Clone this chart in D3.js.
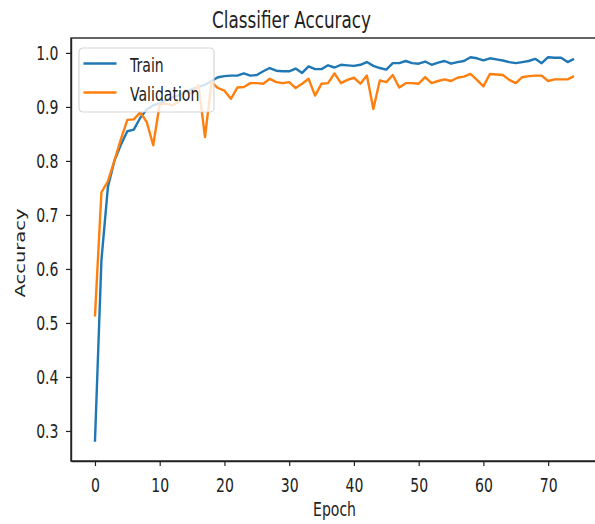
<!DOCTYPE html>
<html>
<head>
<meta charset="utf-8">
<script src="https://cdn.jsdelivr.net/npm/d3@7"></script>
<style>
  body { margin: 0; background: #fff; }
  svg { display: block; font-family: 'DejaVu Sans', sans-serif; }
  .axis path, .axis line { stroke: #222; }
</style>
</head>
<body>
<svg id="chart" width="595" height="524"></svg>
<script>
const epochs = d3.range(75);
const trainAcc = [
  0.280, 0.616, 0.752, 0.800, 0.830, 0.855, 0.858, 0.880, 0.895, 0.903,
  0.907, 0.912, 0.918, 0.922, 0.928, 0.933, 0.937, 0.941, 0.948, 0.955,
  0.957, 0.958, 0.958, 0.962, 0.958, 0.959, 0.966, 0.972, 0.967, 0.966,
  0.966, 0.971, 0.963, 0.975, 0.970, 0.970, 0.977, 0.973, 0.978, 0.977,
  0.976, 0.978, 0.983, 0.976, 0.972, 0.969, 0.981, 0.981, 0.985, 0.981,
  0.980, 0.984, 0.978, 0.982, 0.985, 0.980, 0.983, 0.985, 0.992, 0.990,
  0.986, 0.990, 0.988, 0.986, 0.983, 0.981, 0.983, 0.985, 0.989, 0.981,
  0.992, 0.991, 0.991, 0.983, 0.989
];
const valAcc = [
  0.512, 0.742, 0.762, 0.800, 0.840, 0.876, 0.877, 0.890, 0.872, 0.829,
  0.905, 0.906, 0.903, 0.910, 0.930, 0.925, 0.940, 0.844, 0.946, 0.935,
  0.930, 0.915, 0.936, 0.937, 0.944, 0.944, 0.943, 0.952, 0.946, 0.944,
  0.946, 0.935, 0.943, 0.952, 0.921, 0.943, 0.944, 0.962, 0.944, 0.950,
  0.954, 0.943, 0.958, 0.896, 0.949, 0.946, 0.959, 0.936, 0.944, 0.944,
  0.943, 0.955, 0.944, 0.948, 0.951, 0.948, 0.954, 0.956, 0.961, 0.950,
  0.938, 0.961, 0.960, 0.959, 0.950, 0.944, 0.955, 0.957, 0.958, 0.958,
  0.948, 0.951, 0.951, 0.951, 0.957
];
const xTicks = [0, 10, 20, 30, 40, 50, 60, 70];
const yTicks = [0.3, 0.4, 0.5, 0.6, 0.7, 0.8, 0.9, 1.0];
const seriesNames = ['Train', 'Validation'];
const seriesColors = ['#1f77b4', '#ff7f0e'];

// the picture is squeezed sideways, so text gets the same squeeze
const sx = 0.72;
const fontSize = 19.5;

const margin = { top: 38, right: -3, bottom: 63, left: 71 };
const width = 595 - margin.left - margin.right;
const height = 524 - margin.top - margin.bottom;

const root = d3.select('#chart');
const svg = root
  .append('g')
  .attr('transform', `translate(${margin.left}, ${margin.top})`);

// matplotlib style 5% padding around the data
const xPad = (epochs[epochs.length - 1] - epochs[0]) * 0.05;
const allVals = trainAcc.concat(valAcc);
const yMin = d3.min(allVals);
const yMax = d3.max(allVals);
const yPad = (yMax - yMin) * 0.05;

const xScale = d3
  .scaleLinear()
  .domain([epochs[0] - xPad, epochs[epochs.length - 1] + xPad])
  .range([0, width]);

const yScale = d3
  .scaleLinear()
  .domain([yMin - yPad, yMax + yPad])
  .range([height, 0]);

const line = d3
  .line()
  .x((d, i) => xScale(epochs[i]))
  .y(d => yScale(d));

[trainAcc, valAcc].forEach((series, i) => {
  svg
    .append('path')
    .datum(series)
    .attr('fill', 'none')
    .attr('stroke', seriesColors[i])
    .attr('stroke-width', 2.4)
    .attr('stroke-linejoin', 'round')
    .attr('d', line);
});

// axes
const xAxis = svg
  .append('g')
  .attr('class', 'axis')
  .attr('transform', `translate(0, ${height})`)
  .call(d3.axisBottom(xScale).tickValues(xTicks).tickSize(5).tickSizeOuter(0));

xAxis
  .selectAll('text')
  .attr('y', 0)
  .attr('dy', '0.71em')
  .attr('transform', `translate(0, 17) scale(${sx}, 1)`);

const yAxis = svg
  .append('g')
  .attr('class', 'axis')
  .call(
    d3
      .axisLeft(yScale)
      .tickValues(yTicks)
      .tickFormat(d3.format('.1f'))
      .tickSize(5)
      .tickSizeOuter(0)
  );

yAxis
  .selectAll('text')
  .attr('x', 0)
  .attr('transform', `translate(-12.5, 0) scale(${sx}, 1)`);

root.selectAll('.axis text')
  .attr('font-size', fontSize)
  .attr('font-family', 'DejaVu Sans')
  .attr('fill', '#222');
root.selectAll('.axis .domain').attr('stroke-width', 1.4);
root.selectAll('.axis .tick line').attr('stroke-width', 1.2);

// top and right spines
svg
  .append('rect')
  .attr('width', width)
  .attr('height', height)
  .attr('fill', 'none')
  .attr('stroke', '#222')
  .attr('stroke-width', 1.4);

// title and axis labels
root
  .append('text')
  .attr('transform', `translate(291.5, 27.5) scale(${sx}, 1)`)
  .attr('text-anchor', 'middle')
  .attr('font-size', 23.4)
  .attr('fill', '#222')
  .text('Classifier Accuracy');

root
  .append('text')
  .attr('transform', `translate(${margin.left + xScale(xScale.domain()[0] + (xScale.domain()[1] - xScale.domain()[0]) / 2)}, 516) scale(${sx}, 1)`)
  .attr('text-anchor', 'middle')
  .attr('font-size', fontSize)
  .attr('fill', '#222')
  .text('Epoch');

root
  .append('text')
  .attr('transform', `translate(25, 253) scale(${sx}, 1) rotate(-90)`)
  .attr('text-anchor', 'middle')
  .attr('font-size', fontSize)
  .attr('fill', '#222')
  .text('Accuracy');

// legend
const legend = root.append('g').attr('transform', 'translate(79, 48)');
legend
  .append('rect')
  .attr('width', 135)
  .attr('height', 64)
  .attr('rx', 4)
  .attr('fill', '#fff')
  .attr('fill-opacity', 0.8)
  .attr('stroke', '#ccc')
  .attr('stroke-opacity', 0.8)
  .attr('stroke-width', 1.2);

seriesNames.forEach((name, i) => {
  const y = 15.5 + i * 29;
  legend
    .append('line')
    .attr('x1', 4.5)
    .attr('x2', 37.5)
    .attr('y1', y)
    .attr('y2', y)
    .attr('stroke', seriesColors[i])
    .attr('stroke-width', 2.4);
  legend
    .append('text')
    .attr('transform', `translate(51, ${y + 8}) scale(${sx}, 1)`)
    .attr('font-size', fontSize)
    .attr('fill', '#222')
    .text(name);
});
</script>
</body>
</html>
